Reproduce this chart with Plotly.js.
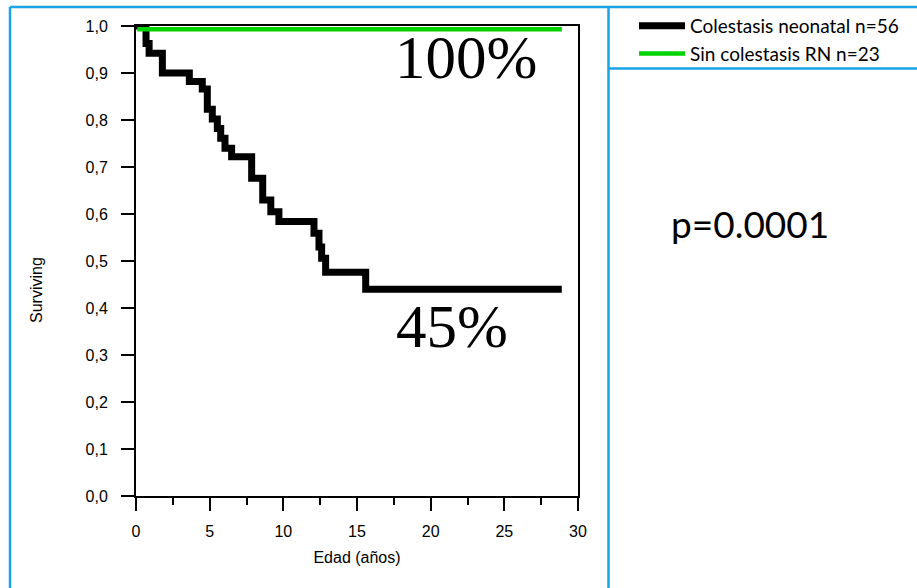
<!DOCTYPE html>
<html>
<head>
<meta charset="utf-8">
<script src="https://cdn.plot.ly/plotly-3.0.1.min.js"></script>
<style>
  html, body { margin: 0; padding: 0; background: #ffffff; }
  #chart { width: 917px; height: 588px; }
</style>
</head>
<body>
<div id="chart"></div>
<script>
// ---- Data ----
const seriesNames = ['Colestasis neonatal n=56', 'Sin colestasis RN n=23'];

const colestasisTime = [0, 0.68, 0.89, 1.79, 3.62, 4.50, 4.84, 5.18, 5.52, 5.75, 6.04, 6.49, 7.85, 8.60, 9.15, 9.70, 12.08, 12.42, 12.60, 12.87, 15.59, 28.9];
const colestasisSurv = [1.000, 0.963, 0.942, 0.900, 0.882, 0.866, 0.823, 0.802, 0.782, 0.761, 0.740, 0.722, 0.676, 0.630, 0.605, 0.584, 0.559, 0.530, 0.506, 0.476, 0.440, 0.440];

const sinColestasisTime = [0.09, 28.9];
const sinColestasisSurv = [0.993, 0.993];

const xTickVals = [0, 5, 10, 15, 20, 25, 30];
const xTickLabels = ['0', '5', '10', '15', '20', '25', '30'];
const yTickVals = [0, 0.1, 0.2, 0.3, 0.4, 0.5, 0.6, 0.7, 0.8, 0.9, 1.0];
const yTickLabels = ['0,0', '0,1', '0,2', '0,3', '0,4', '0,5', '0,6', '0,7', '0,8', '0,9', '1,0'];

const labelTop = '100%';
const labelBottom = '45%';
const pValueText = 'p=0.0001';

// ---- Layout geometry (pixels) ----
const W = 917, H = 588;
const L = 136, R = 578, T = 26, B = 496;
const px2x = p => (p - L) / (R - L);
const py2y = p => (B - p) / (B - T);
const blue = '#1ba3e8';

const traces = [
  {
    x: colestasisTime, y: colestasisSurv, name: seriesNames[0],
    type: 'scatter', mode: 'lines', line: { shape: 'hv', color: '#000000', width: 7 }
  },
  {
    x: sinColestasisTime, y: sinColestasisSurv, name: seriesNames[1],
    type: 'scatter', mode: 'lines', line: { shape: 'hv', color: '#00d400', width: 4.5 }
  }
];

const axisFont = { family: 'Liberation Sans, Arial, sans-serif', size: 16, color: '#000' };

const layout = {
  width: W, height: H,
  margin: { l: L, r: W - R, t: T, b: H - B, pad: 0, autoexpand: false },
  paper_bgcolor: '#ffffff', plot_bgcolor: '#ffffff',
  showlegend: true,
  legend: {
    x: px2x(634), xanchor: 'left', y: py2y(7), yanchor: 'top',
    font: { family: 'Lato, sans-serif', size: 19, color: '#000' },
    itemwidth: 46,
    bgcolor: 'rgba(0,0,0,0)', borderwidth: 0, tracegroupgap: 0
  },
  xaxis: {
    range: [0, 30], tickvals: xTickVals, ticktext: xTickLabels,
    ticks: 'outside', ticklen: 13, tickwidth: 2, tickcolor: '#000',
    minor: { ticks: 'outside', ticklen: 7, tickwidth: 2, tickcolor: '#000', dtick: 2.5, showgrid: false },
    showline: true, linewidth: 2, linecolor: '#000', mirror: true,
    showgrid: false, zeroline: false, tickfont: axisFont,
    ticklabelstandoff: 7,
    title: { text: 'Edad (años)', font: axisFont, standoff: 13 }
  },
  yaxis: {
    range: [0, 1], tickvals: yTickVals, ticktext: yTickLabels,
    ticks: 'outside', ticklen: 13, tickwidth: 2, tickcolor: '#000',
    showline: true, linewidth: 2, linecolor: '#000', mirror: true,
    showgrid: false, zeroline: false, tickfont: axisFont,
    ticklabelstandoff: 10
  },
  annotations: [
    { text: labelTop, xref: 'paper', yref: 'paper', x: px2x(466), y: py2y(57), xanchor: 'center', yanchor: 'middle',
      showarrow: false, font: { family: 'Liberation Serif, Times New Roman, serif', size: 61, color: '#000' } },
    { text: labelBottom, xref: 'paper', yref: 'paper', x: px2x(452), y: py2y(326), xanchor: 'center', yanchor: 'middle',
      showarrow: false, font: { family: 'Liberation Serif, Times New Roman, serif', size: 61, color: '#000' } },
    { text: pValueText, xref: 'paper', yref: 'paper', x: px2x(750), y: py2y(223), xanchor: 'center', yanchor: 'middle',
      showarrow: false, font: { family: 'Lato, sans-serif', size: 37, color: '#000' } },
    { text: 'Surviving', xref: 'paper', yref: 'paper', x: px2x(37), y: py2y(290), xanchor: 'center', yanchor: 'middle',
      textangle: -90, showarrow: false, font: axisFont }
  ],
  shapes: [
    { type: 'line', xref: 'paper', yref: 'paper', x0: px2x(10), x1: px2x(10), y0: py2y(7), y1: py2y(H), line: { color: blue, width: 2.5 } },
    { type: 'line', xref: 'paper', yref: 'paper', x0: px2x(10), x1: px2x(W), y0: py2y(7), y1: py2y(7), line: { color: blue, width: 2.5 } },
    { type: 'line', xref: 'paper', yref: 'paper', x0: px2x(608.5), x1: px2x(608.5), y0: py2y(7), y1: py2y(H), line: { color: blue, width: 2.5 } },
    { type: 'line', xref: 'paper', yref: 'paper', x0: px2x(608.5), x1: px2x(W), y0: py2y(68.5), y1: py2y(68.5), line: { color: blue, width: 2.5 } }
  ]
};

Plotly.newPlot('chart', traces, layout, { staticPlot: true, displayModeBar: false });
</script>
</body>
</html>
